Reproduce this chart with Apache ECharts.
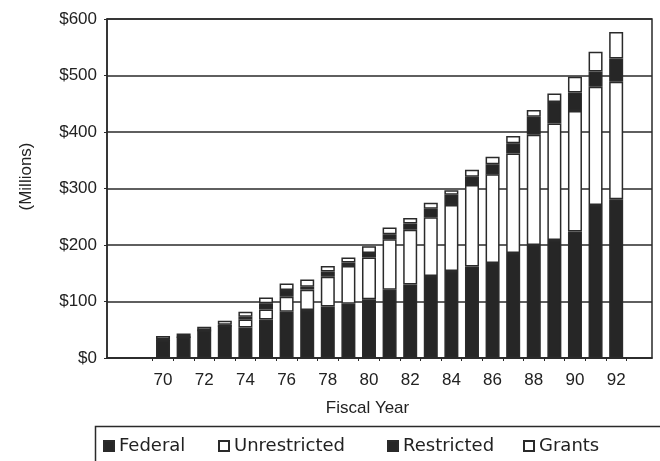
<!DOCTYPE html>
<html>
<head>
<meta charset="utf-8">
<script src="https://cdn.jsdelivr.net/npm/echarts@6/dist/echarts.min.js"></script>
<style>
html,body{margin:0;padding:0;background:#fff;}
#chart{width:660px;height:461px;}
</style>
</head>
<body>
<div id="chart"></div>
<script>
// Fiscal years (19xx)
const years = [70,71,72,73,74,75,76,77,78,79,80,81,82,83,84,85,86,87,88,89,90,91,92];
// Values in $ millions, stacked bottom to top
const federal      = [32,37,48.5,57,54,68,82,85,91,96,104,121,130,145,154,162,168,186,200,209,224,271,281];
const unrestricted = [0,0,0,0,14,18,26.5,36,53,67,74,89,97,104,117,144,157,176,195,206,213,209,208];
const restricted   = [1,1,1,2,5,11,12,5,9,6,8,9,11,15,18,15,18,18,32,38,33,27,41];
const grants       = [6,5.5,6,7,9,10,11.5,13,10,9,12,12,10,11,8,12,13,13,12,15,28,35,47];
// Axis labels
const xLabelYears = [70,72,74,76,78,80,82,84,86,88,90,92];
const yTicks = [0,100,200,300,400,500,600];
const seriesNames = ['Federal','Unrestricted','Restricted','Grants'];

const DARK = '#262626';
const LINE = '#2a2a2a';
const FONT = '"Liberation Sans", Arial, Helvetica, sans-serif';
const LFONT = '"DejaVu Sans", sans-serif';

const xTickVals = years.map(y => y - 0.5).concat([years[years.length-1] + 0.5]);

function mk(name, vals, fill) {
  return {
    name: name,
    type: 'bar',
    stack: 'total',
    barWidth: 14,
    // value first so that it is the stacked dimension; year on x
    data: years.map((y, i) => [vals[i], y]),
    encode: { x: 1, y: 0 },
    itemStyle: { color: fill, borderColor: LINE, borderWidth: 1.5 }
  };
}

const chart = echarts.init(document.getElementById('chart'), null, {renderer: 'canvas'});
const legendLefts = [103, 218, 387, 523];
chart.setOption({
  animation: false,
  backgroundColor: '#fff',
  textStyle: { fontFamily: FONT, color: '#222' },
  grid: { left: 107, right: 8, top: 19, bottom: 103, show: true, borderColor: LINE, borderWidth: 1.5, backgroundColor: 'transparent' },
  xAxis: {
    type: 'value', min: 67.28, max: 93.74,
    name: 'Fiscal Year', nameLocation: 'middle', nameGap: 42,
    nameTextStyle: { fontSize: 17, color: '#222', fontFamily: FONT, padding: [0, 24, 0, 0] },
    axisLine: { show: true, onZero: false, lineStyle: { color: LINE, width: 1.5 } },
    axisTick: { show: true, customValues: xTickVals, length: 3, lineStyle: { color: LINE, width: 1 } },
    axisLabel: { customValues: xLabelYears, fontSize: 17, color: '#222', margin: 14, fontFamily: FONT },
    splitLine: { show: false }
  },
  yAxis: {
    type: 'value', min: 0, max: 600, interval: 100,
    name: '(Millions)', nameLocation: 'middle', nameGap: 72, nameRotate: 90,
    nameTextStyle: { fontSize: 17, color: '#222', fontFamily: FONT, padding: [0, 0, 0, 24] },
    axisLine: { show: true, lineStyle: { color: LINE, width: 1.5 } },
    axisTick: { show: true, length: 3, lineStyle: { color: LINE, width: 1 } },
    axisLabel: { customValues: yTicks, formatter: v => '$' + v, fontSize: 17, color: '#222', margin: 10, fontFamily: FONT },
    splitLine: { show: true, lineStyle: { color: LINE, width: 1.5 } }
  },
  legend: seriesNames.map((n, i) => ({
    data: [n], left: legendLefts[i], top: 437, padding: 0,
    icon: 'rect', itemWidth: 10, itemHeight: 10, selectedMode: false,
    textStyle: { fontSize: 18, color: '#222', fontFamily: LFONT }
  })),
  graphic: [{
    type: 'rect', left: 93, top: 424, shape: { width: 620, height: 80 },
    style: { fill: 'none', stroke: LINE, lineWidth: 1.5 }, silent: true
  }],
  series: [
    mk('Federal', federal, DARK),
    mk('Unrestricted', unrestricted, '#fff'),
    mk('Restricted', restricted, DARK),
    mk('Grants', grants, '#fff')
  ]
});
</script>
</body>
</html>
